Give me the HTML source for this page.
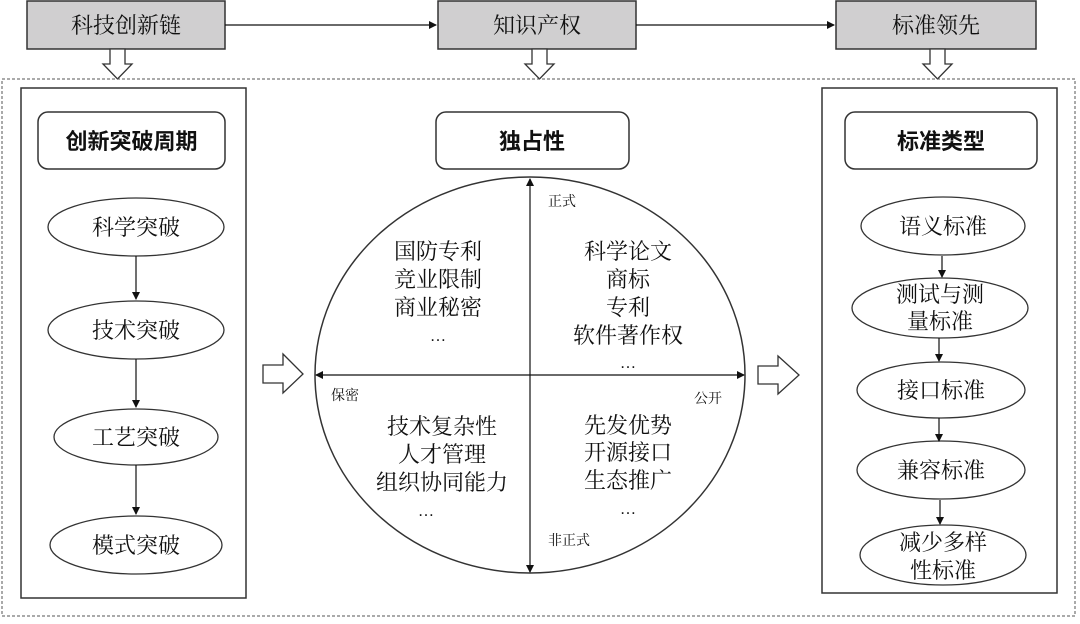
<!DOCTYPE html>
<html><head><meta charset="utf-8"><style>
html,body{margin:0;padding:0;background:#fff;}
svg text{font-family:"Liberation Serif","Noto Serif CJK SC","Noto Sans CJK SC",serif;fill:#111;}
.b{font-family:"Liberation Sans","Noto Sans CJK SC",sans-serif !important;font-weight:bold;}
</style></head><body>
<svg width="1080" height="619" viewBox="0 0 1080 619" xmlns="http://www.w3.org/2000/svg">
<defs>
<marker id="a" markerWidth="8" markerHeight="8" refX="7" refY="4" orient="auto" markerUnits="userSpaceOnUse"><path d="M0,0 L8,4 L0,8 z" fill="#111"/></marker>
</defs>
<!-- top boxes -->
<g stroke="#333" stroke-width="1.5" fill="#d0cfd0">
<rect x="27" y="1" width="198" height="48"/>
<rect x="438" y="1" width="198" height="48"/>
<rect x="836" y="1" width="200" height="48"/>
</g>
<g font-size="22" text-anchor="middle">
<text x="126" y="33">科技创新链</text>
<text x="537" y="33">知识产权</text>
<text x="936" y="33">标准领先</text>
</g>
<g stroke="#111" stroke-width="1.3" fill="none">
<line x1="225" y1="25" x2="436" y2="25" marker-end="url(#a)"/>
<line x1="636" y1="25" x2="834" y2="25" marker-end="url(#a)"/>
</g>
<!-- down hollow arrows -->
<g stroke="#333" stroke-width="1.3" fill="#fff">
<path d="M110,49 H125 V64 H132 L117.5,79 L103,64 H110 Z"/>
<path d="M532,49 H547 V64 H554 L539.5,79 L525,64 H532 Z"/>
<path d="M930,49 H945 V64 H952 L937.5,79 L923,64 H930 Z"/>
</g>
<!-- dashed outer -->
<rect x="2" y="79" width="1073" height="537" fill="none" stroke="#555" stroke-width="1" stroke-dasharray="3,2"/>
<!-- left panel -->
<rect x="21" y="88" width="225" height="510" fill="none" stroke="#333" stroke-width="1.5"/>
<rect x="38" y="112" width="187" height="57" rx="10" fill="#fff" stroke="#333" stroke-width="1.5"/>
<text x="131.5" y="149" font-size="22" text-anchor="middle" class="b">创新突破周期</text>
<g stroke="#333" stroke-width="1.3" fill="#fff">
<ellipse cx="136" cy="227" rx="88" ry="29"/>
<ellipse cx="136" cy="330" rx="88" ry="29"/>
<ellipse cx="136" cy="437" rx="82" ry="28"/>
<ellipse cx="136" cy="545" rx="86" ry="29"/>
</g>
<g stroke="#111" stroke-width="1.2">
<line x1="136" y1="256" x2="136" y2="299" marker-end="url(#a)"/>
<line x1="136" y1="359" x2="136" y2="407" marker-end="url(#a)"/>
<line x1="136" y1="465" x2="136" y2="514" marker-end="url(#a)"/>
</g>
<g font-size="22" text-anchor="middle">
<text x="136" y="235">科学突破</text>
<text x="136" y="338">技术突破</text>
<text x="136" y="445">工艺突破</text>
<text x="136" y="553">模式突破</text>
</g>
<!-- center -->
<rect x="436" y="112" width="193" height="57" rx="10" fill="#fff" stroke="#333" stroke-width="1.5"/>
<text x="532" y="149" font-size="22" text-anchor="middle" class="b">独占性</text>
<ellipse cx="530" cy="375" rx="215" ry="198" fill="#fff" stroke="#333" stroke-width="1.5"/>
<g stroke="#111" stroke-width="1.2">
<line x1="530" y1="375" x2="530" y2="179" marker-end="url(#a)"/>
<line x1="530" y1="375" x2="530" y2="572" marker-end="url(#a)"/>
<line x1="530" y1="375" x2="316" y2="375" marker-end="url(#a)"/>
<line x1="530" y1="375" x2="744" y2="375" marker-end="url(#a)"/>
</g>
<g font-size="14">
<text x="548" y="206">正式</text>
<text x="331" y="400">保密</text>
<text x="694" y="403">公开</text>
<text x="548" y="545">非正式</text>
</g>
<g font-size="22" text-anchor="middle">
<text x="438" y="259">国防专利</text>
<text x="438" y="287">竞业限制</text>
<text x="438" y="315">商业秘密</text>
<text x="438" y="341" font-size="16">…</text>
<text x="628" y="259">科学论文</text>
<text x="628" y="287">商标</text>
<text x="628" y="315">专利</text>
<text x="628" y="343">软件著作权</text>
<text x="628" y="368" font-size="16">…</text>
<text x="442" y="434">技术复杂性</text>
<text x="442" y="462">人才管理</text>
<text x="442" y="490">组织协同能力</text>
<text x="426" y="516" font-size="16">…</text>
<text x="628" y="433">先发优势</text>
<text x="628" y="460">开源接口</text>
<text x="628" y="488">生态推广</text>
<text x="628" y="514" font-size="16">…</text>
</g>
<!-- hollow right arrows -->
<g stroke="#333" stroke-width="1.3" fill="#fff">
<path d="M263,365 H283 V354 L303,374 L283,393 V383 H263 Z"/>
<path d="M758,366 H778 V356 L799,375 L778,394 V384 H758 Z"/>
</g>
<!-- right panel -->
<rect x="822" y="88" width="235" height="505" fill="none" stroke="#333" stroke-width="1.5"/>
<rect x="845" y="112" width="192" height="57" rx="10" fill="#fff" stroke="#333" stroke-width="1.5"/>
<text x="941" y="149" font-size="22" text-anchor="middle" class="b">标准类型</text>
<g stroke="#333" stroke-width="1.3" fill="#fff">
<ellipse cx="943" cy="226" rx="82" ry="29"/>
<ellipse cx="940" cy="308" rx="88" ry="30"/>
<ellipse cx="941" cy="390" rx="84" ry="28"/>
<ellipse cx="941" cy="470" rx="84" ry="29"/>
<ellipse cx="943" cy="555" rx="83" ry="30"/>
</g>
<g stroke="#111" stroke-width="1.2">
<line x1="942" y1="256" x2="942" y2="277" marker-end="url(#a)"/>
<line x1="939" y1="338" x2="939" y2="361" marker-end="url(#a)"/>
<line x1="939" y1="418" x2="939" y2="441" marker-end="url(#a)"/>
<line x1="940" y1="500" x2="940" y2="524" marker-end="url(#a)"/>
</g>
<g font-size="22" text-anchor="middle">
<text x="943" y="234">语义标准</text>
<text x="940" y="302">测试与测</text>
<text x="940" y="329">量标准</text>
<text x="941" y="398">接口标准</text>
<text x="941" y="478">兼容标准</text>
<text x="943" y="550">减少多样</text>
<text x="943" y="578">性标准</text>
</g>
</svg>
</body></html>
